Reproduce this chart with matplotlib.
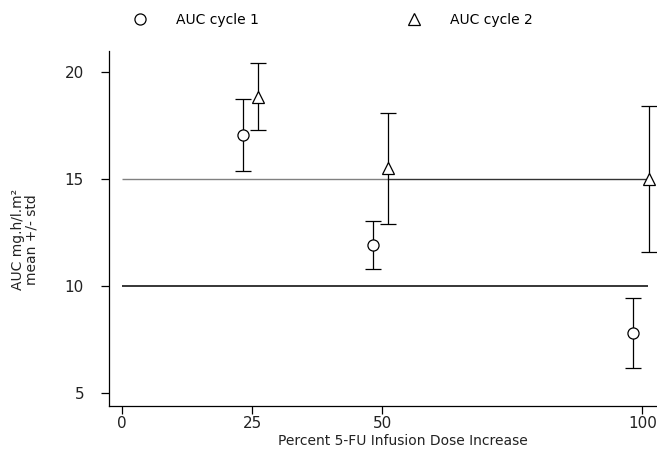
import matplotlib
matplotlib.use('Agg')
import matplotlib.pyplot as plt
from matplotlib.lines import Line2D

# Values
dose_ticks = [0, 25, 50, 100]
auc_ticks = [5, 10, 15, 20]

cycle1_x = [23.2, 48.2, 98.2]
cycle1_mean = [17.05, 11.92, 7.8]
cycle1_std = [1.69, 1.12, 1.63]

cycle2_x = [26.2, 51.2, 101.2]
cycle2_mean = [18.85, 15.5, 15.0]
cycle2_std = [1.57, 2.6, 3.43]

ref_low = 10
ref_high = 15
ref_start = 0
ref_split = 51
ref_end = 101

font = 'DejaVu Sans'
fs = 10

fig = plt.figure(figsize=(6.57, 4.51), dpi=100)
ax = fig.add_axes([109 / 657, 45 / 451, 549 / 657, 355 / 451])

# Reference levels
ax.hlines(ref_low, ref_start, ref_end, color='black', lw=1.1, zorder=1)
ax.hlines(ref_high, ref_start, ref_split, color='#808080', lw=1.0, zorder=1)
ax.hlines(ref_high, ref_split, ref_end, color='#333333', lw=1.0, zorder=1)

# Mean +/- std for each cycle
ax.errorbar(cycle1_x, cycle1_mean, yerr=cycle1_std, fmt='o', ms=8,
            mfc='white', mec='black', mew=0.9, ecolor='black',
            elinewidth=0.9, capsize=5.5, capthick=0.9, zorder=3)
ax.errorbar(cycle2_x, cycle2_mean, yerr=cycle2_std, fmt='^', ms=8,
            mfc='white', mec='black', mew=0.9, ecolor='black',
            elinewidth=0.9, capsize=5.5, capthick=0.9, zorder=3)

ax.set_xlim(-2.5, 103)
ax.set_ylim(4.4, 20.98)
ax.set_xticks(dose_ticks)
ax.set_yticks(auc_ticks)

for side in ['top', 'right']:
    ax.spines[side].set_visible(False)
for side in ['left', 'bottom']:
    ax.spines[side].set_linewidth(0.9)

ax.tick_params(direction='out', length=6, width=0.9, labelsize=11,
               colors='black')
ax.tick_params(axis='x', pad=1)
ax.tick_params(axis='y', pad=12)
for lab in ax.get_xticklabels() + ax.get_yticklabels():
    lab.set_family(font)
    lab.set_color('#222222')

ax.set_xlabel('Percent 5-FU Infusion Dose Increase', family=font, fontsize=fs,
              color='#222222')
ax.xaxis.set_label_coords(0.535, -0.08)
ax.set_ylabel('AUC mg.h/l.m\u00b2\nmean +/- std', family=font, fontsize=fs,
              color='#222222', linespacing=1.0)
ax.yaxis.set_label_coords(-0.128, 0.47)

# Legend across the top
handles = [Line2D([], [], ls='none', marker='o', ms=8, mfc='white',
                  mec='black', mew=0.9),
           Line2D([], [], ls='none', marker='^', ms=8, mfc='white',
                  mec='black', mew=0.9)]
fig.legend(handles, ['AUC cycle 1', 'AUC cycle 2'], loc='center left',
           bbox_to_anchor=(133 / 657, 1 - 20 / 451), ncol=2, frameon=False,
           prop={'family': font, 'size': fs}, handlelength=1.0,
           handletextpad=2.09, columnspacing=10.7, borderpad=0,
           borderaxespad=0)

fig.savefig('out.png', dpi=100)
